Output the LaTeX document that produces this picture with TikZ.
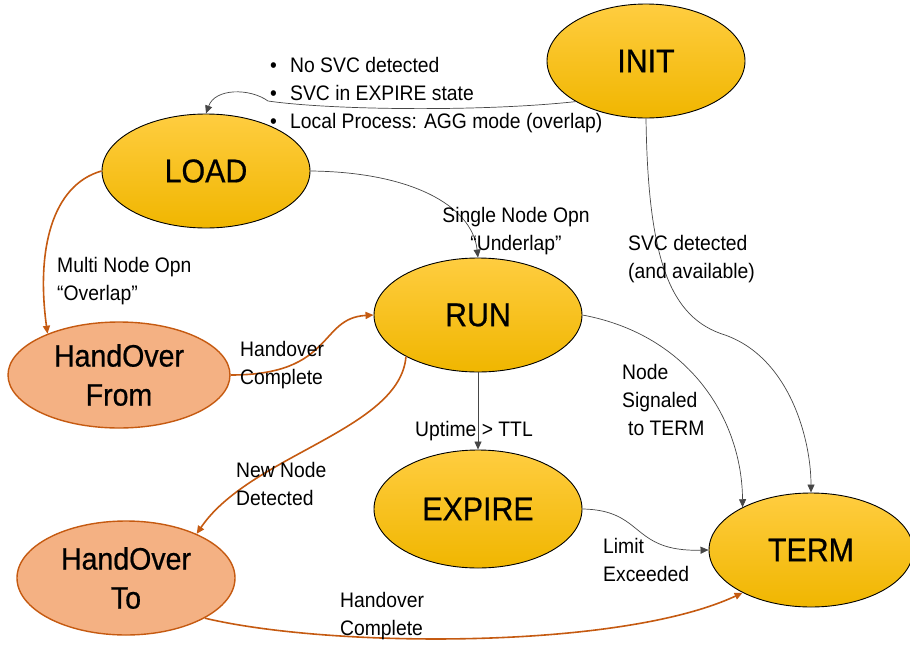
\documentclass[tikz,border=0pt]{standalone}
\usepackage{fontspec}
\setmainfont[FakeStretch=0.92]{Liberation Sans}
\newfontfamily\statefont[FakeStretch=0.92,FakeBold=0.6]{Liberation Sans}
\usetikzlibrary{shapes.geometric,arrows.meta}

\definecolor{gold}{RGB}{255,194,0}
\definecolor{goldtop}{RGB}{255,205,64}
\definecolor{goldbot}{RGB}{240,182,0}
\definecolor{salmon}{RGB}{244,177,131}
\definecolor{rust}{RGB}{197,90,17}
\definecolor{wire}{RGB}{70,70,70}

\begin{document}
\begin{tikzpicture}[x=1pt,y=-1pt,
  state/.style={ellipse, draw=black, line width=0.9pt,
    top color=goldtop, middle color=gold, bottom color=goldbot,
    inner sep=0pt, font=\statefont\fontsize{33}{36}\selectfont},
  handover/.style={ellipse, draw=rust, line width=1.4pt, fill=salmon,
    inner sep=0pt, align=center, font=\statefont\fontsize{31}{39}\selectfont},
  lbl/.style={font=\fontsize{21}{28}\selectfont, align=left, inner sep=0pt},
  wireline/.style={draw=wire, line width=0.7pt, -{Triangle[length=8pt,width=7pt]}},
  orangeline/.style={draw=rust, line width=1.6pt, -{Triangle[length=8pt,width=7pt]}}
]
\useasboundingbox (0,0) rectangle (910,645);

% states
\node[state, minimum width=198pt, minimum height=114pt] (init)   at (646,61)  {INIT};
\node[state, minimum width=208pt, minimum height=114pt] (load)   at (206,171) {LOAD};
\node[state, minimum width=208pt, minimum height=114pt] (run)    at (478,315) {RUN};
\node[state, minimum width=208pt, minimum height=118pt] (expire) at (478,509) {EXPIRE};
\node[state, minimum width=204pt, minimum height=114pt] (term)   at (811,550) {TERM};
\node[handover, minimum width=222pt, minimum height=106pt] (hof) at (119,375) {HandOver\\From};
\node[handover, minimum width=218pt, minimum height=114pt] (hot) at (126,578) {HandOver\\To};

% transitions
\draw[wireline] (init.210) .. controls (480,112) and (330,110) .. (268,101)
                .. controls (250,88) and (215,88) .. (load.north);
\draw[wireline] (init.south) .. controls (648,260) and (670,318) .. (725,335)
                .. controls (790,358) and (811,440) .. (term.north);
\draw[wireline] (load.east) .. controls (410,172) and (472,205) .. (run.north);
\draw[orangeline] (load.west) .. controls (52,185) and (36,250) .. (hof.150);
\draw[orangeline] (hof.east) .. controls (335,375) and (318,318) .. (run.west);
\draw[wireline] (run.east) .. controls (690,335) and (742,420) .. (term.148);
\draw[wireline] (run.south) -- (expire.north);
\draw[orangeline] (run.210) .. controls (400,430) and (250,455) .. (hot.32);
\draw[wireline] (expire.east) .. controls (645,510) and (630,552) .. (term.west);
\draw[orangeline] (hot.333) .. controls (330,648) and (620,650) .. (term.212);

% labels
\node[lbl, anchor=west] (conds) at (270,95)
  {\makebox[20pt][l]{•}No SVC detected\\
   \makebox[20pt][l]{•}SVC in EXPIRE state\\
   \makebox[20pt][l]{•}Local Process: AGG mode (overlap)};
\node[lbl, align=center] (single) at (516,231) {Single Node Opn\\ “Underlap”};
\node[lbl, anchor=west] (multi) at (57,281) {Multi Node Opn\\“Overlap”};
\node[lbl, anchor=west] (svc) at (628,259) {SVC detected\\(and available)};
\node[lbl, anchor=west] (hocomp1) at (240,365) {Handover\\Complete};
\node[lbl, anchor=west] (signal) at (622,400) {Node\\Signaled\\\hspace*{6pt}to TERM};
\node[lbl] (uptime) at (474,431) {Uptime > TTL};
\node[lbl, anchor=west] (newnode) at (236,484) {New Node\\Detected};
\node[lbl, anchor=west] (limit) at (603,560) {Limit\\Exceeded};
\node[lbl, anchor=west] (hocomp2) at (340,616) {Handover\\Complete};
\end{tikzpicture}
\end{document}
